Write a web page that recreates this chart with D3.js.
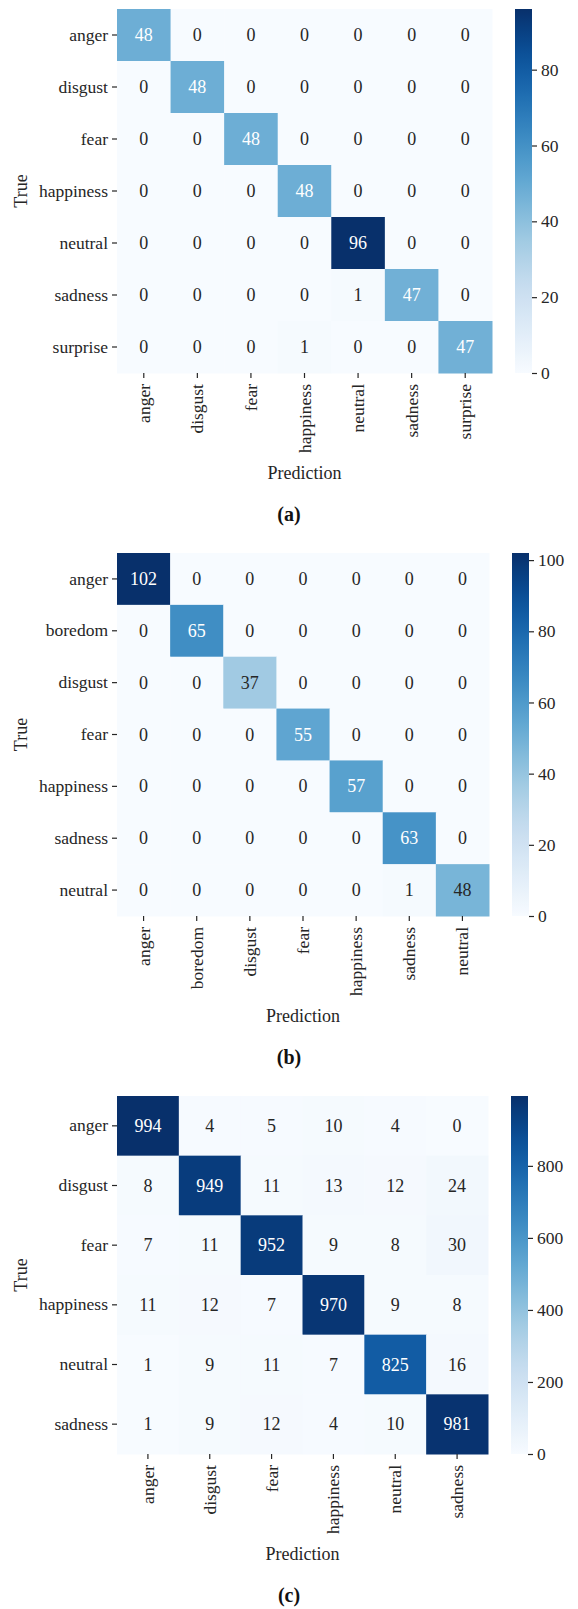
<!DOCTYPE html>
<html>
<head>
<meta charset="utf-8">
<script src="https://cdn.jsdelivr.net/npm/d3@7"></script>
<style>
  html, body { margin: 0; padding: 0; background: #ffffff; }
  svg { display: block; }
  text { font-family: "Liberation Serif", "Times New Roman", serif; }
</style>
</head>
<body>
<script>
// ---------------- DATA ----------------
const labelsA = ["anger", "disgust", "fear", "happiness", "neutral", "sadness", "surprise"];
const matrixA = [
  [48, 0, 0, 0, 0, 0, 0],
  [0, 48, 0, 0, 0, 0, 0],
  [0, 0, 48, 0, 0, 0, 0],
  [0, 0, 0, 48, 0, 0, 0],
  [0, 0, 0, 0, 96, 0, 0],
  [0, 0, 0, 0, 1, 47, 0],
  [0, 0, 0, 1, 0, 0, 47]
];
const ticksA = [0, 20, 40, 60, 80];

const labelsB = ["anger", "boredom", "disgust", "fear", "happiness", "sadness", "neutral"];
const matrixB = [
  [102, 0, 0, 0, 0, 0, 0],
  [0, 65, 0, 0, 0, 0, 0],
  [0, 0, 37, 0, 0, 0, 0],
  [0, 0, 0, 55, 0, 0, 0],
  [0, 0, 0, 0, 57, 0, 0],
  [0, 0, 0, 0, 0, 63, 0],
  [0, 0, 0, 0, 0, 1, 48]
];
const ticksB = [0, 20, 40, 60, 80, 100];

const labelsC = ["anger", "disgust", "fear", "happiness", "neutral", "sadness"];
const matrixC = [
  [994, 4, 5, 10, 4, 0],
  [8, 949, 11, 13, 12, 24],
  [7, 11, 952, 9, 8, 30],
  [11, 12, 7, 970, 9, 8],
  [1, 9, 11, 7, 825, 16],
  [1, 9, 12, 4, 10, 981]
];
const ticksC = [0, 200, 400, 600, 800];

const panelTitles = ["(a)", "(b)", "(c)"];
const xTitle = "Prediction";
const yTitle = "True";

// ---------------- LAYOUT ----------------
const W = 578, H = 1609;
const FONT = 17.5;
const TXT = "#262626";

const svg = d3.select("body").append("svg")
  .attr("width", W).attr("height", H)
  .attr("viewBox", `0 0 ${W} ${H}`);

const panels = [
  { labels: labelsA, matrix: matrixA, ticks: ticksA, title: panelTitles[0], top: 9,    bottom: 373,  left: 117, right: 492 },
  { labels: labelsB, matrix: matrixB, ticks: ticksB, title: panelTitles[1], top: 553,  bottom: 916,  left: 117, right: 489 },
  { labels: labelsC, matrix: matrixC, ticks: ticksC, title: panelTitles[2], top: 1096, bottom: 1454, left: 117, right: 488 }
];

function relLum(c) {
  const rgb = d3.rgb(c);
  const f = v => { v /= 255; return v <= 0.03928 ? v / 12.92 : Math.pow((v + 0.055) / 1.055, 2.4); };
  return 0.2126 * f(rgb.r) + 0.7152 * f(rgb.g) + 0.0722 * f(rgb.b);
}

const defs = svg.append("defs");
const grad = defs.append("linearGradient")
  .attr("id", "bluesGrad")
  .attr("x1", 0).attr("y1", 1).attr("x2", 0).attr("y2", 0);
d3.range(0, 1.0001, 0.02).forEach(t => {
  grad.append("stop").attr("offset", t).attr("stop-color", d3.interpolateBlues(t));
});

panels.forEach((p, pi) => {
  const vmax = d3.max(p.matrix.flat());
  const vmin = d3.min(p.matrix.flat());
  const color = d3.scaleSequential(d3.interpolateBlues).domain([vmin, vmax]);

  const x = d3.scaleBand().domain(p.labels).range([p.left, p.right]).padding(0);
  const y = d3.scaleBand().domain(p.labels).range([p.top, p.bottom]).padding(0);

  const g = svg.append("g").attr("class", "panel-" + pi);

  const cells = [];
  p.matrix.forEach((row, i) => row.forEach((v, j) => cells.push({ r: p.labels[i], c: p.labels[j], v })));

  g.selectAll("rect.cell").data(cells).join("rect")
    .attr("class", "cell")
    .attr("x", d => x(d.c))
    .attr("y", d => y(d.r))
    .attr("width", x.bandwidth() + 0.5)
    .attr("height", y.bandwidth() + 0.5)
    .attr("fill", d => color(d.v));

  g.selectAll("text.annot").data(cells).join("text")
    .attr("class", "annot")
    .attr("x", d => x(d.c) + x.bandwidth() / 2)
    .attr("y", d => y(d.r) + y.bandwidth() / 2)
    .attr("text-anchor", "middle")
    .attr("dominant-baseline", "central")
    .attr("font-size", FONT + 0.5)
    .attr("fill", d => relLum(color(d.v)) > 0.408 ? TXT : "#ffffff")
    .text(d => d.v);

  // Y axis
  const yAxis = g.append("g")
    .attr("transform", `translate(${p.left},0)`)
    .call(d3.axisLeft(y).tickSize(5).tickPadding(4));
  yAxis.select(".domain").remove();
  yAxis.selectAll(".tick line").attr("stroke", TXT).attr("stroke-width", 1.2);
  yAxis.selectAll(".tick text")
    .attr("font-size", FONT)
    .attr("fill", TXT);

  // X axis
  const xAxis = g.append("g")
    .attr("transform", `translate(0,${p.bottom})`)
    .call(d3.axisBottom(x).tickSize(5).tickPadding(4));
  xAxis.select(".domain").remove();
  xAxis.selectAll(".tick line").attr("stroke", TXT).attr("stroke-width", 1.2);
  xAxis.selectAll(".tick text")
    .attr("font-size", FONT)
    .attr("fill", TXT)
    .attr("text-anchor", "end")
    .attr("dy", null)
    .attr("dominant-baseline", "central")
    .attr("transform", "translate(0,11) rotate(-90)")
    .attr("x", 0).attr("y", 0);

  // axis titles
  g.append("text")
    .attr("x", (p.left + p.right) / 2)
    .attr("y", p.bottom + 100)
    .attr("text-anchor", "middle")
    .attr("dominant-baseline", "central")
    .attr("font-size", FONT + 0.5)
    .attr("fill", TXT)
    .text(xTitle);

  g.append("text")
    .attr("transform", `translate(21,${(p.top + p.bottom) / 2}) rotate(-90)`)
    .attr("text-anchor", "middle")
    .attr("dominant-baseline", "central")
    .attr("font-size", FONT + 0.5)
    .attr("fill", TXT)
    .text(yTitle);

  // Panel label
  svg.append("text")
    .attr("x", W / 2)
    .attr("y", p.bottom + 141)
    .attr("text-anchor", "middle")
    .attr("dominant-baseline", "central")
    .attr("font-size", 20)
    .attr("font-weight", "bold")
    .attr("fill", "#111")
    .text(p.title);

  // Colorbar
  const cbLeft = p.right + 23, cbW = 17;
  const cbScale = d3.scaleLinear().domain([vmin, vmax]).range([p.bottom, p.top]);
  g.append("rect")
    .attr("x", cbLeft)
    .attr("y", p.top)
    .attr("width", cbW)
    .attr("height", p.bottom - p.top)
    .attr("fill", "url(#bluesGrad)");
  const cbAxis = g.append("g")
    .attr("transform", `translate(${cbLeft + cbW},0)`)
    .call(d3.axisRight(cbScale).tickValues(p.ticks).tickSize(5).tickPadding(4));
  cbAxis.select(".domain").remove();
  cbAxis.selectAll(".tick line").attr("stroke", TXT).attr("stroke-width", 1.2);
  cbAxis.selectAll(".tick text")
    .attr("font-size", FONT)
    .attr("fill", TXT);
});
</script>
</body>
</html>
